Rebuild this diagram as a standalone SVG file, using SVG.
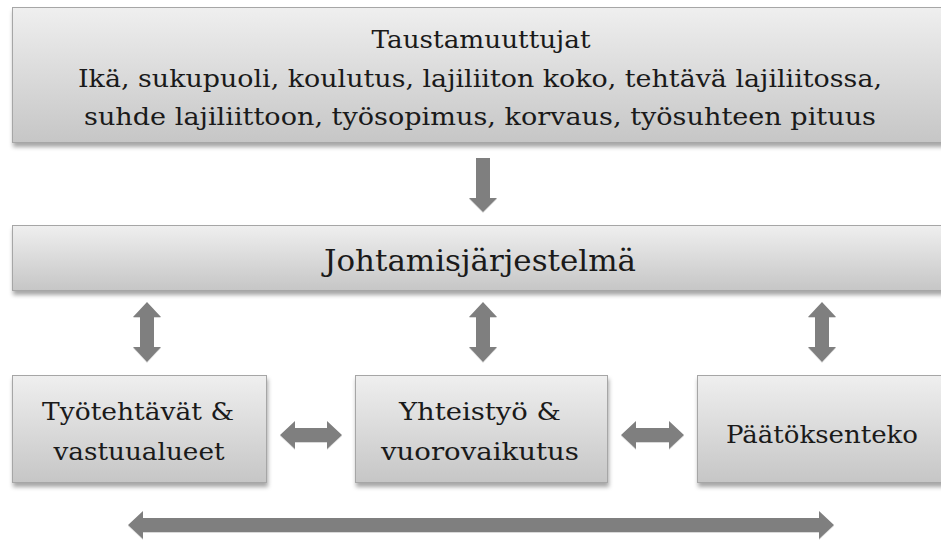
<svg xmlns="http://www.w3.org/2000/svg" width="941" height="543" viewBox="0 0 941 543">
<defs>
<linearGradient id="g" x1="0" y1="0" x2="0" y2="1">
<stop offset="0" stop-color="#efefef"/>
<stop offset="1" stop-color="#c6c6c6"/>
</linearGradient>
<filter id="sh" x="-5%" y="-10%" width="115%" height="130%">
<feDropShadow dx="1" dy="4" stdDeviation="2" flood-color="#000" flood-opacity="0.35"/>
</filter>
<filter id="ash" x="-20%" y="-20%" width="140%" height="140%">
<feDropShadow dx="0" dy="1" stdDeviation="0.6" flood-color="#000" flood-opacity="0.15"/>
</filter>
</defs>
<style>
.box{fill:url(#g);stroke:#a6a6a6;stroke-width:1;filter:url(#sh)}
.t{fill:#1a1a1a;text-anchor:middle;font-family:"DejaVu Serif","Liberation Serif","Noto Serif",serif}
.arr{fill:#7f7f7f;filter:url(#ash)}
</style>
<rect width="941" height="543" fill="#ffffff"/>
<g id="taustamuuttujat">
<rect class="box" x="12.5" y="7.5" width="940" height="135"/>
<text class="t" x="481" y="48" font-size="24" textLength="219" lengthAdjust="spacingAndGlyphs">Taustamuuttujat</text>
<text class="t" x="480" y="87" font-size="24" textLength="804" lengthAdjust="spacingAndGlyphs">Ikä, sukupuoli, koulutus, lajiliiton koko, tehtävä lajiliitossa,</text>
<text class="t" x="480" y="125" font-size="24" textLength="792" lengthAdjust="spacingAndGlyphs">suhde lajiliittoon, työsopimus, korvaus, työsuhteen pituus</text>
</g>
<g id="johtamisjarjestelma">
<rect class="box" x="12.5" y="225.5" width="940" height="65"/>
<text class="t" x="480" y="271" font-size="30" textLength="312" lengthAdjust="spacingAndGlyphs">Johtamisjärjestelmä</text>
</g>
<g id="tyotehtavat">
<rect class="box" x="12.5" y="375.5" width="254" height="107"/>
<text class="t" x="138" y="420" font-size="24" textLength="192" lengthAdjust="spacingAndGlyphs">Työtehtävät &amp;</text>
<text class="t" x="139" y="460" font-size="24" textLength="171" lengthAdjust="spacingAndGlyphs">vastuualueet</text>
</g>
<g id="yhteistyo">
<rect class="box" x="355.5" y="375.5" width="252" height="107"/>
<text class="t" x="480" y="420" font-size="24" textLength="162" lengthAdjust="spacingAndGlyphs">Yhteistyö &amp;</text>
<text class="t" x="480" y="460" font-size="24" textLength="198" lengthAdjust="spacingAndGlyphs">vuorovaikutus</text>
</g>
<g id="paatoksenteko">
<rect class="box" x="697.5" y="375.5" width="260" height="107"/>
<text class="t" x="822" y="443" font-size="24" textLength="192" lengthAdjust="spacingAndGlyphs">Päätöksenteko</text>
</g>
<g id="connectors">
<path class="arr" d="M476,158 H490 V198 H497 L483,212 L469,198 H476 Z"/>
<path class="arr" d="M147,302 L161,317 H154 V347 H161 L147,362 L133,347 H140 V317 H133 Z"/>
<path class="arr" d="M483,302 L497,317 H490 V347 H497 L483,362 L469,347 H476 V317 H469 Z"/>
<path class="arr" d="M822,302 L836,317 H829 V347 H836 L822,362 L808,347 H815 V317 H808 Z"/>
<path class="arr" d="M280,435 L295,421 V428 H327 V421 L342,435 L327,449 V442 H295 V449 Z"/>
<path class="arr" d="M621,435 L636,421 V428 H669 V421 L684,435 L669,449 V442 H636 V449 Z"/>
<path class="arr" d="M128,525 L143,511 V518 H819 V511 L834,525 L819,539 V532 H143 V539 Z"/>
</g>
</svg>
